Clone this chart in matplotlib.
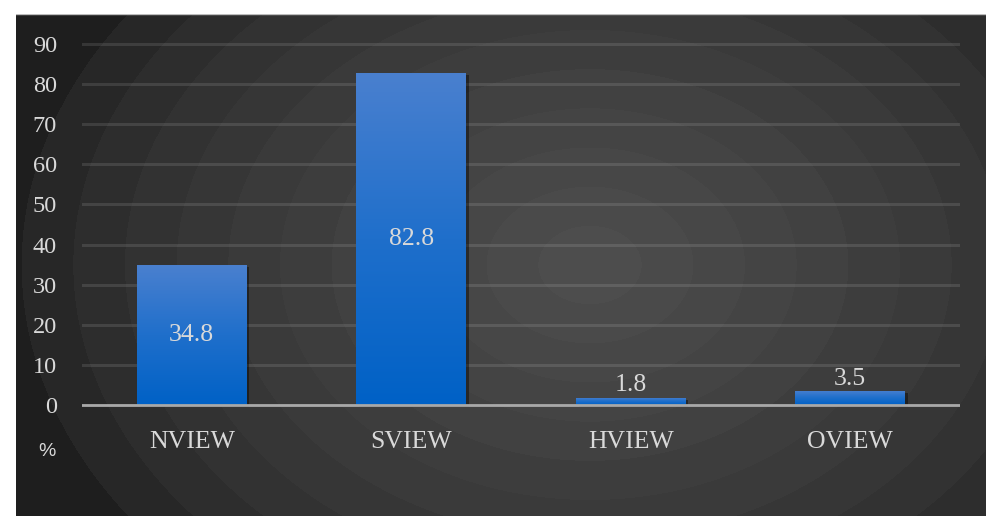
import numpy as np
import matplotlib
matplotlib.use("Agg")
import matplotlib.pyplot as plt
from matplotlib import patheffects
from matplotlib.colors import LinearSegmentedColormap

categories = ["NVIEW", "SVIEW", "HVIEW", "OVIEW"]
values = [34.8, 82.8, 1.8, 3.5]
value_labels = ["34.8", "82.8", "1.8", "3.5"]
yticks = list(range(0, 100, 10))

W, H = 986, 516
fig = plt.figure(figsize=(W / 100, H / 100), dpi=100, facecolor="white")

# dark panel with a stepped radial glow
px0, py0 = 16, 14
bg = fig.add_axes([px0 / W, 0, 1 - px0 / W, 1 - py0 / H])
bg.set_axis_off()
xs = np.arange(px0, W) + 0.5
ys = np.arange(py0, H) + 0.5
gx, gy = np.meshgrid(xs, ys)
r = np.sqrt(((gx - 590) / 620.0) ** 2 + ((gy - 265) / 470.0) ** 2)
t = np.clip(1 - r, 0, 1)
levels = 12
t = np.floor(t * levels) / levels
lum = (30 + (80 - 30) * t ** 0.65) / 255.0
img = np.dstack([lum, lum, lum])
bg.imshow(img, aspect="auto", extent=[0, 1, 0, 1], interpolation="bilinear")
bg.set_xlim(0, 1)
bg.set_ylim(0, 1)
bg.axhline(1, color="#bdbdbd", lw=1.0)

# plotting area: y=0 at 405 px, y=90 at 44 px
ppu = (405 - 44) / 90.0
ylo, yhi = -2, 92
ax_bottom = 405 + (-ylo) * ppu
ax_h = (yhi - ylo) * ppu
ax = fig.add_axes([82 / W, (H - ax_bottom) / H, 878 / W, ax_h / H])
ax.set_facecolor("none")
for s in ax.spines.values():
    s.set_visible(False)

serif = "Liberation Serif"
txt_color = "#d9d9d9"

x = np.arange(len(categories))
ax.set_yticks(yticks)
ax.set_yticklabels([str(v) for v in yticks])
ax.set_xticks(x)
ax.set_xticklabels(categories)
ax.tick_params(axis="y", length=0, pad=18, labelsize=17.5, labelcolor=txt_color)
ax.tick_params(axis="x", length=0, pad=13, labelsize=18.5, labelcolor=txt_color)
for lab in ax.get_xticklabels() + ax.get_yticklabels():
    lab.set_fontfamily(serif)

ax.yaxis.grid(True, color="#ffffff", alpha=0.11, lw=2.2)
ax.set_axisbelow(True)

bars = ax.bar(x, values, width=0.5, color="none", edgecolor="none", zorder=3)
cmap = LinearSegmentedColormap.from_list("barfill", ["#0061c6", "#1f6fcb", "#4a80cf"])
grad = np.linspace(0, 1, 256).reshape(-1, 1)
for b in bars:
    b.set_path_effects([patheffects.SimplePatchShadow(offset=(2.0, -1.5),
                                                      shadow_rgbFace="black",
                                                      alpha=0.4)])
    x0, w, h = b.get_x(), b.get_width(), b.get_height()
    im = ax.imshow(grad, extent=[x0, x0 + w, 0, h], origin="lower",
                   aspect="auto", cmap=cmap, zorder=4, interpolation="bilinear")
    im.set_clip_path(b)

ax.axhline(0, color="#a8a8a8", lw=2.0, zorder=5)
ax.set_xlim(-0.5, len(categories) - 0.5)
ax.set_ylim(ylo, yhi)

for i, (v, lab) in enumerate(zip(values, value_labels)):
    if v > 10:
        ax.text(i, v / 2, lab, ha="center", va="center", fontsize=18.5,
                family=serif, color=txt_color, zorder=6)
    else:
        ax.annotate(lab, (i, v), xytext=(0, 1), textcoords="offset points",
                    ha="center", va="bottom", fontsize=18.5, family=serif,
                    color=txt_color, zorder=6)

fig.text(47 / W, 1 - 452 / H, "%", ha="center", va="center", fontsize=14,
         family="Liberation Sans", color=txt_color)

fig.savefig("out.png", dpi=100, facecolor="white")
